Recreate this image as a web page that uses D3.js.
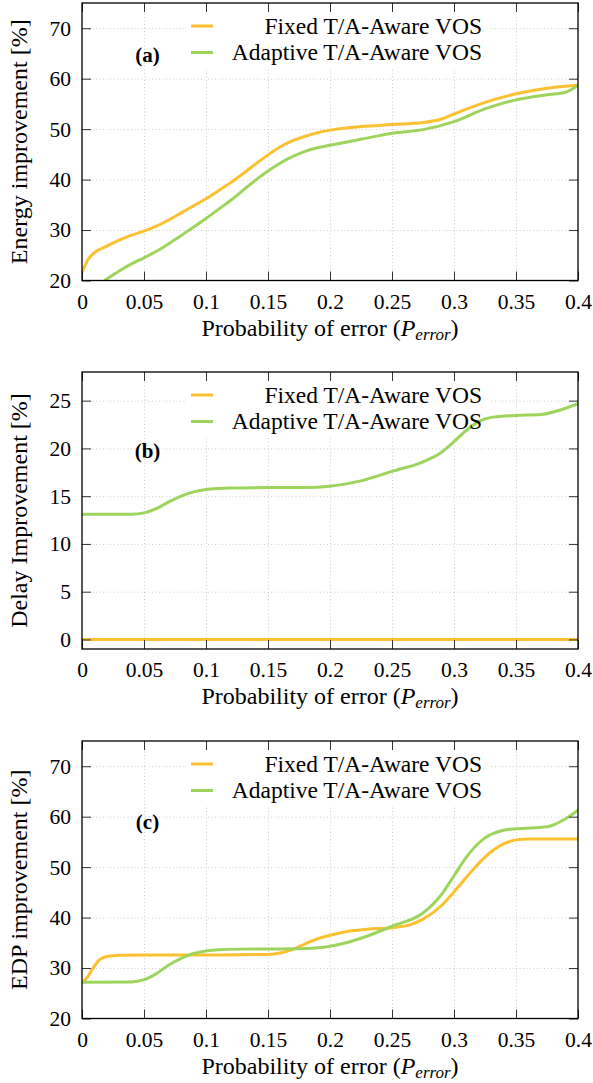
<!DOCTYPE html>
<html>
<head>
<meta charset="utf-8">
<script src="https://cdn.jsdelivr.net/npm/d3@7"></script>
<style>
  body { margin: 0; background: #fff; }
  text { font-family: "Liberation Serif", "Times New Roman", serif; }
</style>
</head>
<body>
<div id="chart"></div>
<script>
// x ticks shared by all three panels
var xTicks = [0, 0.05, 0.1, 0.15, 0.2, 0.25, 0.3, 0.35, 0.4];
var xTickLabels = ["0", "0.05", "0.1", "0.15", "0.2", "0.25", "0.3", "0.35", "0.4"];
var seriesNames = ["Fixed T/A-Aware VOS", "Adaptive T/A-Aware VOS"];
var colors = ["#fcc130", "#9dd55c"];

// (a) energy improvement
var energyFixedX = [0, 0.005, 0.01, 0.02, 0.03, 0.04, 0.05, 0.06, 0.07, 0.08, 0.09, 0.1, 0.11, 0.12, 0.13, 0.14, 0.15, 0.16, 0.17, 0.18, 0.19, 0.2, 0.225, 0.25, 0.275, 0.29, 0.3, 0.325, 0.35, 0.375, 0.4];
var energyFixedY = [21.6, 24.2, 25.5, 26.8, 28.0, 29.0, 29.8, 30.8, 32.0, 33.4, 34.8, 36.2, 37.8, 39.4, 41.2, 43.1, 44.9, 46.5, 47.7, 48.6, 49.3, 49.8, 50.5, 50.9, 51.3, 52.0, 53.0, 55.3, 57.0, 58.1, 58.7];
var energyAdaptX = [0.018, 0.02, 0.03, 0.04, 0.05, 0.06, 0.07, 0.08, 0.09, 0.1, 0.11, 0.12, 0.13, 0.14, 0.15, 0.16, 0.17, 0.18, 0.19, 0.2, 0.225, 0.25, 0.275, 0.3, 0.325, 0.35, 0.375, 0.39, 0.4];
var energyAdaptY = [20.0, 20.3, 21.9, 23.3, 24.5, 25.8, 27.3, 28.9, 30.6, 32.3, 34.1, 35.9, 37.9, 39.9, 41.7, 43.3, 44.6, 45.6, 46.3, 46.8, 48.0, 49.2, 49.9, 51.5, 54.0, 55.8, 56.8, 57.3, 58.7];
var energyTicks = [20, 30, 40, 50, 60, 70];

// (b) delay improvement
var delayFixedX = [0, 0.1, 0.2, 0.3, 0.4];
var delayFixedY = [0, 0, 0, 0, 0];
var delayAdaptX = [0, 0.04, 0.05, 0.06, 0.07, 0.08, 0.09, 0.1, 0.12, 0.15, 0.18, 0.2, 0.225, 0.25, 0.275, 0.29, 0.3, 0.31, 0.32, 0.33, 0.35, 0.37, 0.385, 0.4];
var delayAdaptY = [13.1, 13.1, 13.25, 13.7, 14.4, 15.0, 15.45, 15.7, 15.85, 15.9, 15.9, 16.05, 16.6, 17.6, 18.6, 19.6, 20.7, 21.9, 22.8, 23.25, 23.45, 23.55, 24.0, 24.7];
var delayTicks = [0, 5, 10, 15, 20, 25];

// (c) EDP improvement
var edpFixedX = [0, 0.005, 0.01, 0.015, 0.02, 0.03, 0.05, 0.1, 0.15, 0.16, 0.17, 0.18, 0.19, 0.2, 0.215, 0.23, 0.25, 0.265, 0.275, 0.29, 0.3, 0.31, 0.325, 0.34, 0.35, 0.36, 0.375, 0.4];
var edpFixedY = [27.0, 28.4, 30.4, 31.8, 32.3, 32.55, 32.6, 32.6, 32.7, 33.0, 33.7, 34.8, 35.8, 36.5, 37.3, 37.7, 38.0, 38.6, 39.7, 42.4, 45.1, 48.0, 52.0, 54.6, 55.4, 55.6, 55.6, 55.6];
var edpAdaptX = [0, 0.04, 0.05, 0.06, 0.07, 0.08, 0.09, 0.1, 0.11, 0.13, 0.17, 0.19, 0.2, 0.225, 0.25, 0.275, 0.29, 0.3, 0.31, 0.325, 0.34, 0.35, 0.375, 0.39, 0.4];
var edpAdaptY = [27.2, 27.25, 27.7, 28.9, 30.6, 31.9, 32.9, 33.4, 33.65, 33.75, 33.8, 34.0, 34.3, 35.9, 38.3, 40.9, 44.6, 48.3, 52.0, 55.8, 57.3, 57.6, 58.0, 59.6, 61.3];
var edpTicks = [20, 30, 40, 50, 60, 70];

var width = 593, height = 1083;
var left = 82, right = 578;

var svg = d3.select("#chart")
  .append("svg")
    .attr("width", width)
    .attr("height", height);

function zip(xs, ys) {
  return xs.map(function(v, i) { return { x: v, y: ys[i] }; });
}

var panels = [
  { id: "a", label: "(a)", yLabel: "Energy improvement [%]", top: 3, bottom: 280.5, yDomain: [20, 75], yTicks: energyTicks,
    labelY: 59, series: [zip(energyFixedX, energyFixedY), zip(energyAdaptX, energyAdaptY)] },
  { id: "b", label: "(b)", yLabel: "Delay Improvement [%]", top: 372, bottom: 649, yDomain: [-1, 28], yTicks: delayTicks,
    labelY: 86, series: [zip(delayFixedX, delayFixedY), zip(delayAdaptX, delayAdaptY)] },
  { id: "c", label: "(c)", yLabel: "EDP improvement [%]", top: 741, bottom: 1018.5, yDomain: [20, 75], yTicks: edpTicks,
    labelY: 88, series: [zip(edpFixedX, edpFixedY), zip(edpAdaptX, edpAdaptY)] }
];

function drawPanel(p) {
  var x = d3.scaleLinear().domain([0, 0.4]).range([left, right]);
  var y = d3.scaleLinear().domain(p.yDomain).range([p.bottom, p.top]);
  var h = p.bottom - p.top;
  var g = svg.append("g").attr("class", "panel-" + p.id);

  g.append("clipPath").attr("id", "clip-" + p.id)
    .append("rect")
      .attr("x", left).attr("y", p.top)
      .attr("width", right - left).attr("height", h);

  // dotted grid, only the inner ticks
  var inX = xTicks.filter(function(d) { return d > 0 && d < 0.4; });
  var inY = p.yTicks.filter(function(d) { return y(d) < p.bottom - 1 && y(d) > p.top + 1; });
  g.append("g")
    .attr("transform", "translate(0," + p.bottom + ")")
    .call(d3.axisBottom(x).tickValues(inX).tickSize(-h).tickFormat(""))
    .call(function(a) {
      a.select(".domain").remove();
      a.selectAll("line").attr("stroke", "#cdcdcd").attr("stroke-dasharray", "1,2.5");
    });
  g.append("g")
    .attr("transform", "translate(" + left + ",0)")
    .call(d3.axisLeft(y).tickValues(inY).tickSize(-(right - left)).tickFormat(""))
    .call(function(a) {
      a.select(".domain").remove();
      a.selectAll("line").attr("stroke", "#cdcdcd").attr("stroke-dasharray", "1,2.5");
    });

  // opaque legend box
  g.append("rect")
    .attr("x", 186).attr("y", p.top + 1)
    .attr("width", 304).attr("height", 65)
    .attr("fill", "#fff");

  var line = d3.line()
    .x(function(d) { return x(d.x); })
    .y(function(d) { return y(d.y); })
    .curve(d3.curveMonotoneX);

  p.series.forEach(function(s, i) {
    g.append("path")
      .datum(s)
      .attr("clip-path", "url(#clip-" + p.id + ")")
      .attr("d", line)
      .attr("fill", "none")
      .attr("stroke", colors[i])
      .attr("stroke-width", 3);
  });

  // legend
  seriesNames.forEach(function(name, i) {
    var ly = p.top + 23 + i * 26.5;
    g.append("line")
      .attr("x1", 191).attr("x2", 213)
      .attr("y1", ly).attr("y2", ly)
      .attr("stroke", colors[i]).attr("stroke-width", 3);
    g.append("text")
      .attr("x", 482).attr("y", ly + 7.5)
      .attr("text-anchor", "end")
      .style("font-size", "23.5px")
      .text(name);
  });

  g.append("text")
    .attr("x", 147.5).attr("y", p.top + p.labelY)
    .attr("text-anchor", "middle")
    .style("font-size", "21px")
    .style("font-weight", "bold")
    .text(p.label);

  // ticks on all four sides, pointing in
  function styleAxis(a) {
    a.select(".domain").remove();
    a.selectAll("line").attr("stroke", "#333").attr("stroke-width", 1);
    a.selectAll("text").style("font-size", "21.5px").attr("fill", "#000");
  }
  var xLab = function(d) { return xTickLabels[xTicks.indexOf(d)]; };
  g.append("g")
    .attr("transform", "translate(0," + p.bottom + ")")
    .call(d3.axisBottom(x).tickValues(xTicks).tickSize(-9).tickPadding(13).tickFormat(xLab))
    .call(styleAxis);
  g.append("g")
    .attr("transform", "translate(0," + p.top + ")")
    .call(d3.axisTop(x).tickValues(xTicks).tickSize(-9).tickFormat(""))
    .call(styleAxis);
  g.append("g")
    .attr("transform", "translate(" + left + ",0)")
    .call(d3.axisLeft(y).tickValues(p.yTicks).tickSize(-9).tickPadding(11))
    .call(styleAxis);
  g.append("g")
    .attr("transform", "translate(" + right + ",0)")
    .call(d3.axisRight(y).tickValues(p.yTicks).tickSize(-9).tickFormat(""))
    .call(styleAxis);

  g.append("rect")
    .attr("x", left).attr("y", p.top)
    .attr("width", right - left).attr("height", h)
    .attr("fill", "none")
    .attr("stroke", "#000")
    .attr("stroke-width", 1.3);

  // axis titles
  var xt = g.append("text")
    .attr("x", (left + right) / 2).attr("y", p.bottom + 55)
    .attr("text-anchor", "middle")
    .style("font-size", "24px");
  xt.append("tspan").text("Probability of error (");
  xt.append("tspan").style("font-style", "italic").text("P");
  xt.append("tspan").style("font-style", "italic").style("font-size", "17px").attr("dy", 4).text("error");
  xt.append("tspan").attr("dy", -4).text(")");

  g.append("text")
    .attr("transform", "translate(27," + (p.top + p.bottom) / 2 + ") rotate(-90)")
    .attr("text-anchor", "middle")
    .style("font-size", "24px")
    .text(p.yLabel);
}

panels.forEach(drawPanel);
</script>
</body>
</html>
